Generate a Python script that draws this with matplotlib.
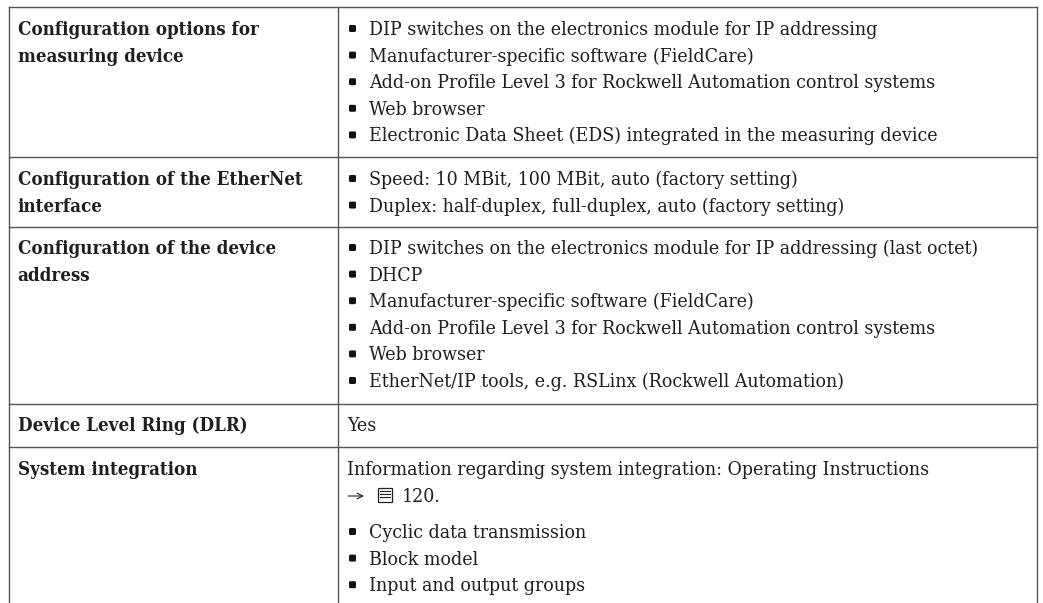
#!/usr/bin/env python3
"""Redraw the device configuration table."""

import matplotlib
matplotlib.use("Agg")
import matplotlib.pyplot as plt
from matplotlib.patches import FancyBboxPatch, Rectangle

row_labels = [
    ["Configuration options for", "measuring device"],
    ["Configuration of the EtherNet", "interface"],
    ["Configuration of the device", "address"],
    ["Device Level Ring (DLR)"],
    ["System integration"],
]
row1_items = [
    "DIP switches on the electronics module for IP addressing",
    "Manufacturer-specific software (FieldCare)",
    "Add-on Profile Level 3 for Rockwell Automation control systems",
    "Web browser",
    "Electronic Data Sheet (EDS) integrated in the measuring device",
]
row2_items = [
    "Speed: 10 MBit, 100 MBit, auto (factory setting)",
    "Duplex: half-duplex, full-duplex, auto (factory setting)",
]
row3_items = [
    "DIP switches on the electronics module for IP addressing (last octet)",
    "DHCP",
    "Manufacturer-specific software (FieldCare)",
    "Add-on Profile Level 3 for Rockwell Automation control systems",
    "Web browser",
    "EtherNet/IP tools, e.g. RSLinx (Rockwell Automation)",
]
row4_text = "Yes"
row5_intro = "Information regarding system integration: Operating Instructions"
row5_ref = "120."
row5_items = ["Cyclic data transmission", "Block model", "Input and output groups"]

# pixel layout of the table
LEFT, MID, RIGHT, TOP, BOTTOM = 9, 338, 1037, 7, 603
ROW_LINES = [157, 227, 403.5, 447]
PITCH = 26.6
FS = 13.97
FS_BOLD = 13.4
INK = "#1f1f1f"
FONT = dict(family="DejaVu Serif", stretch="condensed", color=INK)

fig = plt.figure(figsize=(10.43, 6.03), dpi=100)
ax = fig.add_axes([0, 0, 1, 1])
ax.set_xlim(0, 1043)
ax.set_ylim(603, 0)
ax.axis("off")

# grid
ax.plot([LEFT, RIGHT], [TOP, TOP], color="#555555", lw=1)
for y in ROW_LINES:
    ax.plot([LEFT, RIGHT], [y, y], color="#555555", lw=1)
for x in (LEFT, MID, RIGHT):
    ax.plot([x, x], [TOP, BOTTOM], color="#555555", lw=1)

# left column
for lines, y0 in zip(row_labels, [35, 185, 254, 431, 475]):
    for i, line in enumerate(lines):
        ax.text(17.5, y0 + i * PITCH, line, fontweight="bold", va="baseline",
                fontsize=FS_BOLD, **FONT)


def bullets(items, y0):
    for i, item in enumerate(items):
        y = y0 + i * PITCH
        ax.add_patch(FancyBboxPatch((350, y - 9), 5, 5,
                                    boxstyle="round,pad=1,rounding_size=1.5",
                                    facecolor="#111111", edgecolor="none"))
        ax.text(369, y, item, va="baseline", fontsize=FS, **FONT)


bullets(row1_items, 35)
bullets(row2_items, 185)
bullets(row3_items, 254)
bullets(row5_items, 538)

ax.text(347, 431, row4_text, va="baseline", fontsize=FS, **FONT)
ax.text(347, 475, row5_intro, va="baseline", fontsize=FS, **FONT)

# reference line: arrow, page icon, page number
ax.annotate("", xy=(364, 496), xytext=(348, 496),
            arrowprops=dict(arrowstyle="->", color=INK, lw=0.8, shrinkA=0, shrinkB=0))
ax.add_patch(Rectangle((377.5, 487.5), 14.5, 14, fill=False, edgecolor=INK, lw=0.9))
for y in (491, 494, 497):
    ax.plot([380, 390], [y, y], color=INK, lw=0.8)
ax.text(401.5, 501.7, row5_ref, va="baseline", fontsize=FS, **FONT)

fig.savefig("out.png", dpi=100)
